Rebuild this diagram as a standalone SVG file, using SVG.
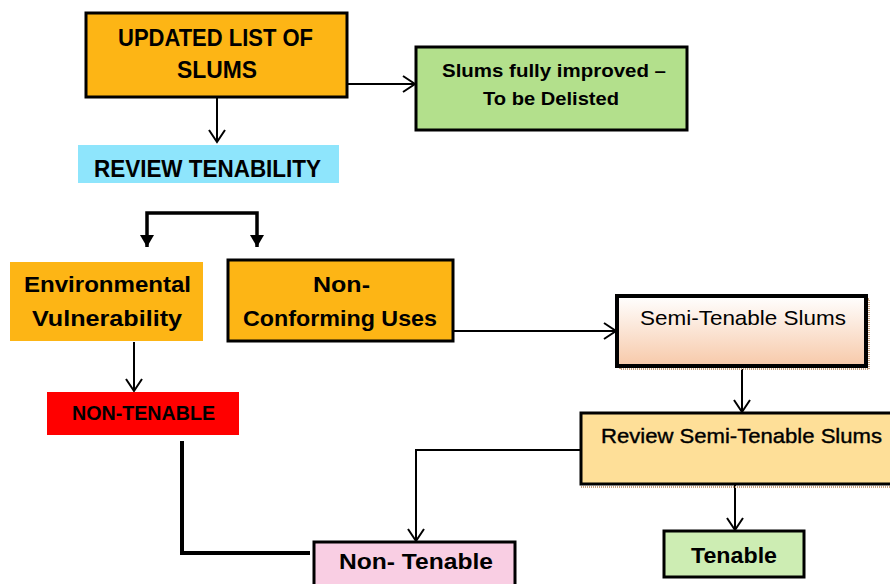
<svg xmlns="http://www.w3.org/2000/svg" width="890" height="584" viewBox="0 0 890 584">
  <style>
    .t { font-family: "Liberation Sans", Arial, sans-serif; font-weight: bold; fill: #000; text-anchor: middle; }
    .r { font-family: "Liberation Sans", Arial, sans-serif; font-weight: normal; fill: #000; text-anchor: middle; }
    .box { stroke: #000; stroke-width: 3; }
    .ln { fill: none; stroke: #000; stroke-width: 2; }
    .thick { fill: none; stroke: #000; stroke-width: 3.5; }
  </style>
  <defs>
    <linearGradient id="peach" x1="0" y1="0" x2="0" y2="1">
      <stop offset="0" stop-color="#FFFFFF"/>
      <stop offset="1" stop-color="#F7C9A9"/>
    </linearGradient>
    <marker id="open" markerUnits="userSpaceOnUse" markerWidth="20" markerHeight="20" refX="13" refY="10" orient="auto" overflow="visible">
      <path d="M1,2 L13,10 L1,18" fill="none" stroke="#000" stroke-width="2"/>
    </marker>
    <marker id="tri" markerUnits="userSpaceOnUse" markerWidth="14" markerHeight="14" refX="12" refY="7" orient="auto" overflow="visible">
      <path d="M0,0 L12,7 L0,14 Z" fill="#000"/>
    </marker>
  </defs>

  <g id="connectors">
    <line class="ln" x1="217" y1="97" x2="217" y2="142" marker-end="url(#open)"/>
    <line class="ln" x1="347" y1="84" x2="415" y2="84" marker-end="url(#open)"/>
    <path class="thick" d="M202,213 H147 V247" marker-end="url(#tri)"/>
    <path class="thick" d="M202,213 H257 V247" marker-end="url(#tri)"/>
    <line class="ln" x1="134" y1="342" x2="134" y2="391" marker-end="url(#open)"/>
    <line class="ln" x1="453" y1="331" x2="616" y2="331" marker-end="url(#open)"/>
    <line class="ln" x1="742" y1="369" x2="742" y2="412" marker-end="url(#open)"/>
    <line class="ln" x1="735" y1="485" x2="735" y2="530" marker-end="url(#open)"/>
    <path class="ln" d="M581,450 H416 V541" marker-end="url(#open)"/>
    <path fill="none" stroke="#000" stroke-width="4" d="M182,441 V553 H310"/>
  </g>

  <g id="updated-list">
    <rect class="box" x="86" y="13" width="261" height="84" fill="#FDB515"/>
    <text class="t" x="215.5" y="46" font-size="23" textLength="195" lengthAdjust="spacingAndGlyphs">UPDATED LIST OF</text>
    <text class="t" x="217" y="78" font-size="23" textLength="80" lengthAdjust="spacingAndGlyphs">SLUMS</text>
  </g>

  <g id="delisted">
    <rect class="box" x="416" y="47" width="271" height="83" fill="#B3E08C"/>
    <text class="t" x="554" y="77" font-size="19" textLength="224" lengthAdjust="spacingAndGlyphs">Slums fully improved –</text>
    <text class="t" x="551" y="105" font-size="19" textLength="136" lengthAdjust="spacingAndGlyphs">To be Delisted</text>
  </g>

  <g id="review-tenability">
    <rect x="78" y="145" width="261" height="38" fill="#8EE5FC"/>
    <text class="t" x="207.5" y="177" font-size="23" textLength="227" lengthAdjust="spacingAndGlyphs">REVIEW TENABILITY</text>
  </g>

  <g id="environmental">
    <rect x="10" y="262" width="193" height="79" fill="#FDB515"/>
    <text class="t" x="107.5" y="292" font-size="22" textLength="167" lengthAdjust="spacingAndGlyphs">Environmental</text>
    <text class="t" x="107" y="326" font-size="22" textLength="150" lengthAdjust="spacingAndGlyphs">Vulnerability</text>
  </g>

  <g id="non-conforming">
    <rect class="box" x="228" y="260" width="225" height="81" fill="#FDB515"/>
    <text class="t" x="341.5" y="292" font-size="22" textLength="57" lengthAdjust="spacingAndGlyphs">Non-</text>
    <text class="t" x="340" y="326" font-size="22" textLength="194" lengthAdjust="spacingAndGlyphs">Conforming Uses</text>
  </g>

  <g id="semi-tenable">
    <rect x="620" y="299" width="249" height="70" fill="none" stroke="#C9A27F" stroke-width="2" stroke-dasharray="1,1"/>
    <rect x="617" y="296" width="249" height="70" fill="url(#peach)" stroke="#000" stroke-width="4"/>
    <text class="r" x="743" y="325" font-size="21" textLength="206" lengthAdjust="spacingAndGlyphs">Semi-Tenable Slums</text>
  </g>

  <g id="review-semi">
    <line x1="581" y1="487" x2="890" y2="487" stroke="#C9A27F" stroke-width="2" stroke-dasharray="1,1"/>
    <rect class="box" x="581" y="413" width="315" height="71" fill="#FEDF98"/>
    <text class="r" x="741.5" y="443" font-size="21" stroke="#000" stroke-width="0.4" textLength="281" lengthAdjust="spacingAndGlyphs">Review Semi-Tenable Slums</text>
  </g>

  <g id="non-tenable-red">
    <rect x="47" y="392" width="192" height="43" fill="#FF0000"/>
    <text class="t" x="143.5" y="420" font-size="20" textLength="143" lengthAdjust="spacingAndGlyphs">NON-TENABLE</text>
  </g>

  <g id="non-tenable">
    <rect class="box" x="314" y="542" width="201" height="50" fill="#F9CEE3"/>
    <text class="t" x="416" y="569" font-size="22" textLength="154" lengthAdjust="spacingAndGlyphs">Non- Tenable</text>
  </g>

  <g id="tenable">
    <rect class="box" x="664" y="531" width="140" height="46" fill="#CDEDB3"/>
    <text class="t" x="734" y="563" font-size="22" textLength="86" lengthAdjust="spacingAndGlyphs">Tenable</text>
  </g>
</svg>
